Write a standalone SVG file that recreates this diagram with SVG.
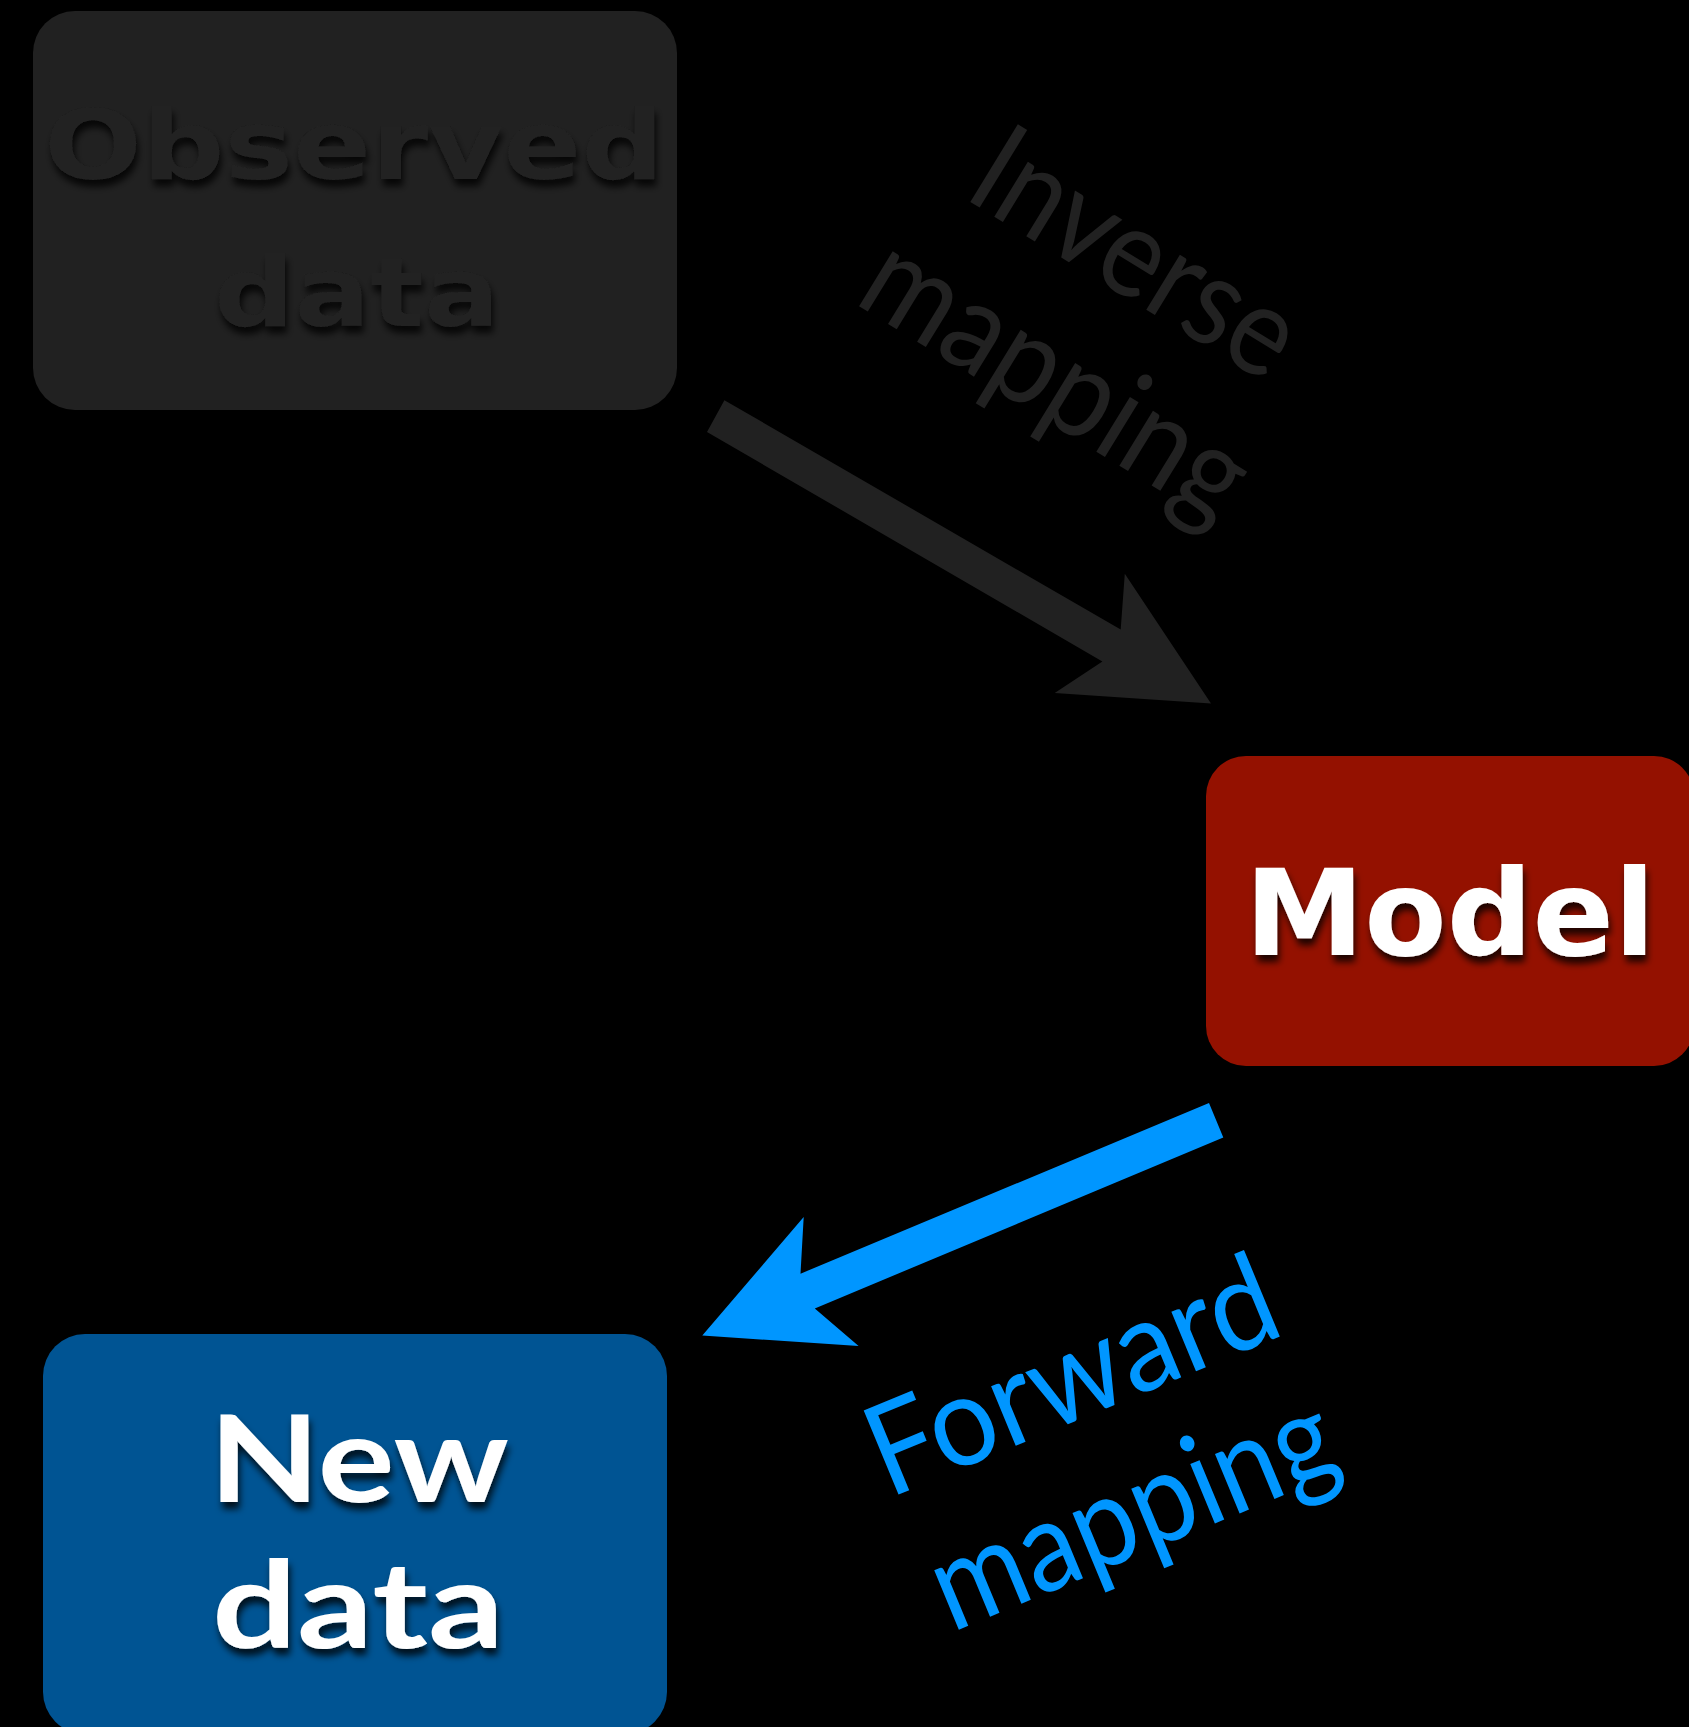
<svg xmlns="http://www.w3.org/2000/svg" width="1689" height="1727" viewBox="0 0 1689 1727">
  <defs>
    <filter id="ts" x="-10%" y="-30%" width="125%" height="170%">
      <feDropShadow dx="2" dy="7" stdDeviation="3.5" flood-color="#000" flood-opacity="0.8"/>
    </filter>
    <style>
      .box-label { font-family: "Lato", "Liberation Sans", sans-serif; font-weight: 700; }
      .heavy-label { font-family: "DejaVu Sans", Verdana, sans-serif; font-weight: 700; }
      .edge-label { font-family: "Lato", "Liberation Sans", sans-serif; font-weight: 400; font-size: 127px; text-anchor: middle; }
    </style>
  </defs>
  <rect width="1689" height="1727" fill="#000"/>

  <g id="node-observed">
    <rect x="33" y="11" width="644" height="399" rx="42" fill="#212121"/>
    <g filter="url(#ts)" fill="#212121" class="heavy-label">
      <text x="44" y="179" font-size="97" textLength="620" lengthAdjust="spacingAndGlyphs">Observed</text>
      <text x="214" y="326" font-size="97" textLength="286" lengthAdjust="spacingAndGlyphs">data</text>
    </g>
  </g>

  <g id="node-model">
    <rect x="1206" y="756" width="488" height="310" rx="40" fill="#941100"/>
    <text x="1450" y="955" font-family="DejaVu Sans, Verdana, sans-serif" font-weight="700" font-size="120" text-anchor="middle" fill="#fff" filter="url(#ts)">Model</text>
  </g>

  <g id="node-newdata">
    <rect x="43" y="1334" width="624" height="400" rx="42" fill="#005493"/>
    <g filter="url(#ts)" fill="#fff" class="box-label">
      <text x="209" y="1502" font-size="121" textLength="300" lengthAdjust="spacingAndGlyphs">New</text>
      <text x="212" y="1648" font-size="121" textLength="292" lengthAdjust="spacingAndGlyphs">data</text>
    </g>
  </g>

  <g id="connectors">
    <g id="inverse-mapping">
      <polygon points="724.4,400.2 1120.7,629.6 1124.8,573.7 1211,703.5 1054.7,692.9 1102.4,661.4 707,432" fill="#212121"/>
      <g transform="translate(1114,290) rotate(31.5)" fill="#212121" class="edge-label">
        <text x="0" y="0" textLength="358" lengthAdjust="spacingAndGlyphs">Inverse</text>
        <text x="-3" y="147" textLength="428" lengthAdjust="spacingAndGlyphs">mapping</text>
      </g>
    </g>
    <g id="forward-mapping">
      <polygon points="1209,1103 800.5,1273.7 803.7,1217 702.3,1335.6 858.6,1345.9 814.8,1308.5 1223.3,1137.4" fill="#0096ff"/>
      <g transform="translate(1088,1416) rotate(-22.5)" fill="#0096ff" class="edge-label">
        <text x="0" y="0" textLength="432" lengthAdjust="spacingAndGlyphs">Forward</text>
        <text x="4" y="148" textLength="426" lengthAdjust="spacingAndGlyphs">mapping</text>
      </g>
    </g>
  </g>
</svg>
